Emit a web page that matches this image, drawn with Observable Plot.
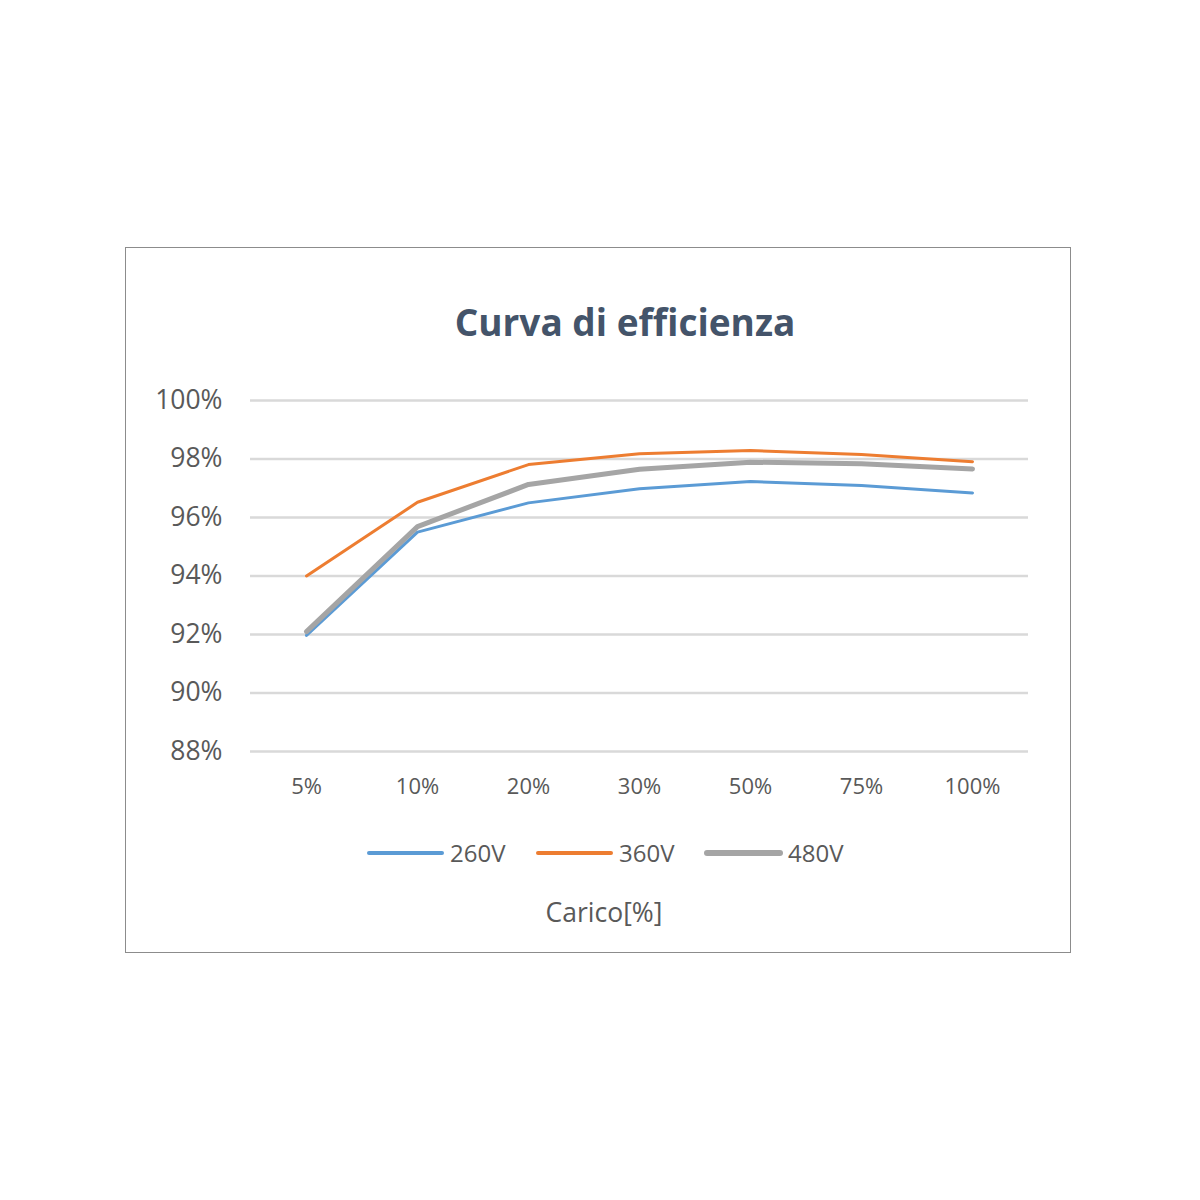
<!DOCTYPE html>
<html>
<head>
<meta charset="utf-8">
<script src="https://cdn.jsdelivr.net/npm/d3@7"></script>
<script src="https://cdn.jsdelivr.net/npm/@observablehq/plot@0.6"></script>
<style>
  html, body { margin: 0; padding: 0; background: #fff; }
  #page { position: relative; width: 1200px; height: 1200px; background: #fff; font-family: "Open Sans", "Noto Sans", sans-serif; color: #595959; }
  #frame { position: absolute; left: 125px; top: 247px; width: 946px; height: 706px; box-sizing: border-box; border: 1px solid #8c8c8c; }
  #title { position: absolute; left: 125px; width: 1000px; top: 303px; text-align: center; font-weight: 700; font-size: 37px; line-height: 1; color: #44546A; }
  #chart { position: absolute; left: 125px; top: 370px; }
  #legend { position: absolute; left: 0; top: 836px; width: 1200px; height: 36px; }
  #xlabel { position: absolute; left: 404px; width: 400px; top: 899px; text-align: center; font-size: 26.5px; line-height: 1; color: #595959; }
</style>
</head>
<body>
<div id="page">
  <div id="frame"></div>
  <div id="title"></div>
  <div id="chart"></div>
  <div id="legend"></div>
  <div id="xlabel"></div>
</div>
<script>
const titleText = "Curva di efficienza";
const xAxisLabel = "Carico[%]";
const categories = ["5%", "10%", "20%", "30%", "50%", "75%", "100%"];
const seriesNames = ["260V", "360V", "480V"];
const seriesColors = ["#5B9BD5", "#ED7D31", "#A5A5A5"];
const seriesWidths = [3, 3, 5];
const values260 = [91.97, 95.50, 96.50, 96.98, 97.23, 97.09, 96.84];
const values360 = [94.00, 96.52, 97.81, 98.18, 98.29, 98.15, 97.91];
const values480 = [92.10, 95.69, 97.13, 97.65, 97.89, 97.84, 97.66];
const yTicks = [88, 90, 92, 94, 96, 98, 100];

const seriesValues = [values260, values360, values480];
const data = [];
seriesNames.forEach((s, i) => categories.forEach((c, j) => data.push({series: s, load: c, eff: seriesValues[i][j]})));

document.getElementById("title").textContent = titleText;
document.getElementById("xlabel").textContent = xAxisLabel;

const chart = Plot.plot({
  width: 946,
  height: 450,
  marginLeft: 125,
  marginRight: 43,
  marginTop: 30,
  marginBottom: 69,
  style: { fontFamily: "'Open Sans', 'Noto Sans', sans-serif", color: "#595959", background: "transparent", overflow: "visible" },
  x: { type: "point", domain: categories, padding: 0.5 },
  y: { domain: [88, 100] },
  color: { domain: seriesNames, range: seriesColors },
  marks: [
    Plot.ruleY(yTicks, { stroke: "#D9D9D9", strokeWidth: 2.5 }),
    Plot.axisY({ ticks: yTicks, tickSize: 0, tickPadding: 28, fontSize: 26.5, tickFormat: d => d + "%", label: null }),
    Plot.axisX({ tickSize: 0, tickPadding: 27, fontSize: 22, label: null }),
    ...seriesNames.map((s, i) =>
      Plot.line(data.filter(d => d.series === s), { x: "load", y: "eff", stroke: "series", strokeWidth: seriesWidths[i], strokeLinejoin: "round", strokeLinecap: "round" })
    )
  ]
});
document.getElementById("chart").appendChild(chart);

// Legend
const legendX = [369, 538, 707];
const NS = "http://www.w3.org/2000/svg";
const lsvg = document.createElementNS(NS, "svg");
lsvg.setAttribute("width", 1200);
lsvg.setAttribute("height", 36);
seriesNames.forEach((s, i) => {
  const line = document.createElementNS(NS, "line");
  line.setAttribute("x1", legendX[i]);
  line.setAttribute("x2", legendX[i] + 73);
  line.setAttribute("y1", 17);
  line.setAttribute("y2", 17);
  line.setAttribute("stroke", seriesColors[i]);
  line.setAttribute("stroke-width", seriesWidths[i] + 1);
  line.setAttribute("stroke-linecap", "round");
  lsvg.appendChild(line);
  const t = document.createElementNS(NS, "text");
  t.setAttribute("x", legendX[i] + 81);
  t.setAttribute("y", 26);
  t.setAttribute("font-size", 24);
  t.setAttribute("font-family", "'Open Sans', 'Noto Sans', sans-serif");
  t.setAttribute("fill", "#595959");
  t.textContent = s;
  lsvg.appendChild(t);
});
document.getElementById("legend").appendChild(lsvg);
</script>
</body>
</html>
